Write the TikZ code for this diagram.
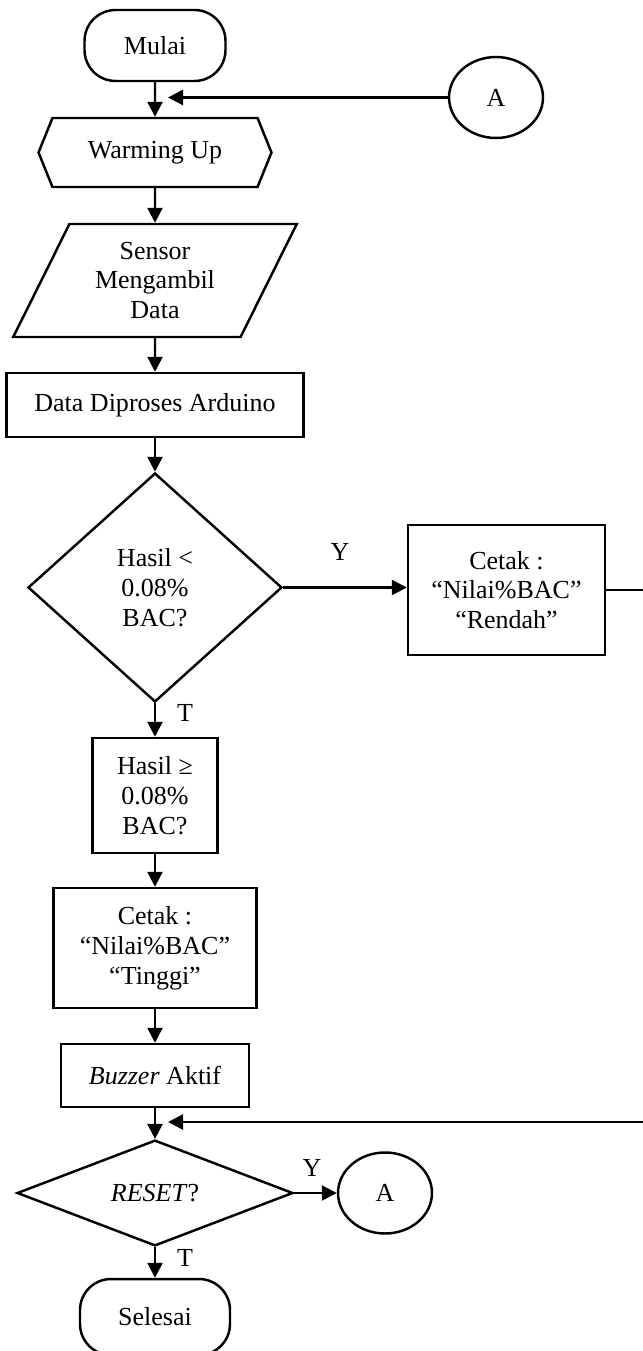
\documentclass[tikz,border=0pt]{standalone}
\usepackage{fontspec}
\setmainfont{Liberation Serif}
\usetikzlibrary{shapes.geometric,shapes.symbols,arrows.meta}

\begin{document}
\begin{tikzpicture}[
  x=0.02cm, y=-0.02cm, line width=1.4pt,
  every node/.style = {font=\fontsize{14.8}{17}\selectfont, align=center, inner sep=0pt},
  terminal/.style = {draw, rounded corners=0.62cm, minimum width=2.82cm, minimum height=1.42cm},
  hexa/.style = {draw, signal, signal to=west and east, signal pointer angle=136, minimum width=4.66cm, minimum height=1.38cm},
  io/.style = {draw, trapezium, trapezium left angle=63, trapezium right angle=117, trapezium stretches=true, minimum width=5.68cm, minimum height=2.26cm},
  process/.style = {draw, rectangle},
  decision/.style = {draw, diamond},
  connector/.style = {draw, ellipse, minimum width=1.88cm, minimum height=1.62cm},
  flow/.style = {-{Triangle[length=0.3cm,width=0.3cm]}},
  ]
  \useasboundingbox (0,0) rectangle (642,1351);

  \node[terminal] (mulai) at (155,45.5) {Mulai};
  \node[connector] (a1) at (496,97.5) {A};
  \node[hexa] (warm) at (155,152.5) {Warming Up};
  \node[io] (sensor) at (155,280.5) {Sensor\\Mengambil\\Data};
  \node[process, minimum width=5.94cm, minimum height=1.28cm] (proses) at (155,405) {Data Diproses Arduino};
  \node[decision, minimum width=5.08cm, minimum height=4.58cm] (d1) at (155,587.5) {Hasil <\\0.08\%\\BAC?};
  \node[process, minimum width=3.94cm, minimum height=2.6cm] (rendah) at (506.5,590) {Cetak :\\“Nilai\%BAC”\\“Rendah”};
  \node[process, minimum width=2.5cm, minimum height=2.3cm] (hasil) at (155,795.5) {Hasil ≥\\0.08\%\\BAC?};
  \node[process, minimum width=4.06cm, minimum height=2.4cm] (tinggi) at (155,948) {Cetak :\\“Nilai\%BAC”\\“Tinggi”};
  \node[process, minimum width=3.76cm, minimum height=1.26cm] (buzzer) at (155,1075.5) {\textit{Buzzer} Aktif};
  \node[decision, minimum width=5.52cm, minimum height=2cm] (d2) at (155,1193) {\textit{RESET}?};
  \node[connector] (a2) at (385,1193) {A};
  \node[terminal, minimum width=3cm, minimum height=1.52cm] (selesai) at (155,1317) {Selesai};

  \coordinate (join1) at (168,97.5);
  \coordinate (join2) at (168,1122);

  \draw[flow] (mulai) -- (warm);
  \draw[flow] (a1) -- (join1);
  \draw[flow] (warm) -- (sensor);
  \draw[flow] (sensor) -- (proses);
  \draw[flow] (proses) -- (d1);
  \draw[flow] (d1.east) -- (d1.east -| rendah.west);
  \draw[flow] (d1) -- (hasil);
  \draw[flow] (hasil) -- (tinggi);
  \draw[flow] (tinggi) -- (buzzer);
  \draw[flow] (buzzer) -- (d2);
  \draw[flow] (rendah.east) -- ++(60,0) |- (join2); % back to RESET?
  \draw[flow] (d2) -- (a2);
  \draw[flow] (d2) -- (selesai);

  \node (y1) at (340,552) {Y};
  \node (t1) at (185,713) {T};
  \node (y2) at (312,1168) {Y};
  \node (t2) at (185,1258) {T};
\end{tikzpicture}
\end{document}
